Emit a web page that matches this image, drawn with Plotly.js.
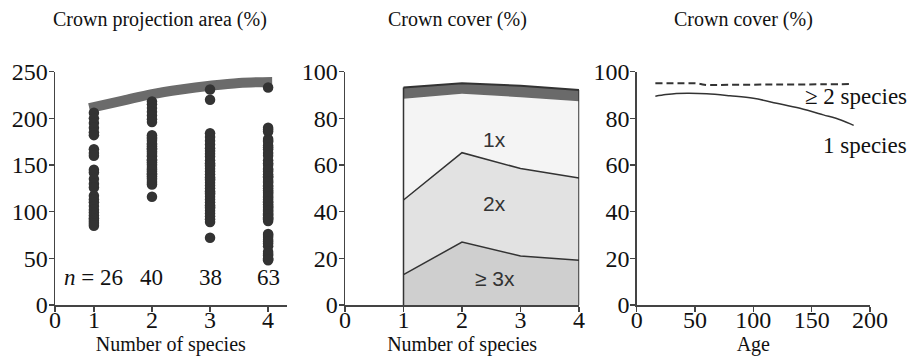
<!DOCTYPE html>
<html>
<head>
<meta charset="utf-8">
<script src="https://cdn.plot.ly/plotly-3.0.1.min.js"></script>
<style>html,body{margin:0;padding:0;background:#fff;}#chart{width:911px;height:362px;}</style>
</head>
<body>
<div id="chart"></div>
<script>
// ---------- Panel 1: crown projection area by number of species ----------
const speciesGroups = [1, 2, 3, 4];
const groupN = [26, 40, 38, 63];
const cpa1 = [206, 200, 195, 190, 185, 182, 167, 163, 160, 145, 142, 135, 130, 126, 117, 113, 110, 106, 102, 99, 96, 93, 91, 89, 87, 85];
const cpa2 = [218, 215, 211, 207, 203, 199, 196, 182, 179, 176, 173, 170, 167, 164, 162, 159, 156, 153, 151, 148, 146, 143, 141, 138, 136, 133, 131, 129, 172, 168, 160, 155, 150, 145, 140, 135, 178, 165, 180, 116];
const cpa3 = [231, 220, 184, 180, 176, 172, 168, 165, 162, 159, 155, 152, 149, 146, 143, 140, 137, 134, 131, 128, 125, 122, 119, 116, 113, 110, 107, 104, 101, 98, 95, 92, 89, 150, 135, 120, 105, 72];
const cpa4 = [233, 190, 186, 178, 175, 171, 167, 163, 155, 152, 146, 143, 140, 137, 134, 131, 128, 125, 123, 120, 118, 115, 113, 110, 108, 106, 104, 102, 100, 98, 96, 94, 92, 90, 76, 73, 70, 66, 63, 57, 53, 50, 48, 188, 176, 169, 150, 145, 138, 132, 127, 121, 116, 111, 105, 101, 97, 93, 75, 68, 55, 49, 160];
const bandX = [0.92, 1.5, 2, 2.5, 3, 3.5, 4.07];
const bandY = [211, 219, 226, 231, 235, 238, 239];
const p1TickVals = [0.33, 1, 2, 3, 4];
const p1TickText = ['0', '1', '2', '3', '4'];

// ---------- Panel 2: crown cover layers (cumulative tops) ----------
const coverCats = [1, 2, 3, 4];
const cover3x = [13, 27, 21, 19.2];
const cover2x = [45, 65.3, 58.5, 54.4];
const cover1x = [88.4, 90.6, 89.1, 87.3];
const coverTotal = [93.2, 95.1, 94.0, 92.2];
const layerLabels = ['1x', '2x', '\u2265 3x'];
const layerLabelY = [71, 43.6, 11.4];

// ---------- Panel 3: crown cover vs age ----------
const age1 = [16, 25, 34, 45, 60, 80, 100, 120, 140, 160, 175, 186];
const cover1sp = [89.5, 90.2, 90.7, 90.8, 90.6, 89.7, 88.6, 86.5, 84.3, 81.5, 79.3, 77.0];
const age2 = [16, 40, 52, 58, 80, 120, 160, 185];
const cover2sp = [95, 95, 95, 94.4, 94.4, 94.5, 94.6, 94.7];

const dark = '#333333';
const serif = 'Liberation Serif, Times New Roman, serif';
const sans = 'Liberation Sans, Arial, sans-serif';

const traces = [];
traces.push({x: bandX, y: bandY, xaxis: 'x', yaxis: 'y', mode: 'lines', type: 'scatter',
  line: {color: '#6b6b6b', width: 10, shape: 'spline'}, hoverinfo: 'skip', showlegend: false});
[cpa1, cpa2, cpa3, cpa4].forEach((vals, i) => {
  traces.push({x: vals.map(() => speciesGroups[i]), y: vals, xaxis: 'x', yaxis: 'y',
    mode: 'markers', type: 'scatter', marker: {color: dark, size: 10.5}, showlegend: false, cliponaxis: false});
});

traces.push({x: coverCats, y: cover3x, xaxis: 'x2', yaxis: 'y2', mode: 'lines', fill: 'tozeroy',
  fillcolor: '#cfcfcf', line: {color: dark, width: 1.5}, showlegend: false});
traces.push({x: coverCats, y: cover2x, xaxis: 'x2', yaxis: 'y2', mode: 'lines', fill: 'tonexty',
  fillcolor: '#e2e2e2', line: {color: dark, width: 1.5}, showlegend: false});
traces.push({x: coverCats, y: cover1x, xaxis: 'x2', yaxis: 'y2', mode: 'lines', fill: 'tonexty',
  fillcolor: '#f4f4f4', line: {color: '#f4f4f4', width: 0}, showlegend: false});
traces.push({x: coverCats, y: coverTotal, xaxis: 'x2', yaxis: 'y2', mode: 'lines', fill: 'tonexty',
  fillcolor: '#6a6a6a', line: {color: dark, width: 2}, showlegend: false});
const nC = coverCats.length;
traces.push({x: [coverCats[0], coverCats[0], null, coverCats[nC-1], coverCats[nC-1]],
  y: [0, coverTotal[0], null, 0, coverTotal[nC-1]], xaxis: 'x2', yaxis: 'y2', mode: 'lines',
  line: {color: dark, width: 1.5}, showlegend: false, cliponaxis: false});

traces.push({x: age2, y: cover2sp, xaxis: 'x3', yaxis: 'y3', mode: 'lines',
  line: {color: dark, width: 2, dash: '7px,4px', shape: 'spline'}, showlegend: false});
traces.push({x: age1, y: cover1sp, xaxis: 'x3', yaxis: 'y3', mode: 'lines',
  line: {color: dark, width: 1.5, shape: 'spline'}, showlegend: false});

const W = 911, H = 362;
const yDom = [(H - 305) / H, (H - 71.7) / H];
const tickFont = {family: serif, size: 24, color: '#111'};
const titleFont = {family: serif, size: 20, color: '#111'};
const labelFont = {family: serif, size: 23, color: '#111'};
function axBase(letter) {
  return {showgrid: false, zeroline: false, showline: true, linecolor: '#444', linewidth: 1.5,
    ticks: 'outside', ticklen: 5, tickwidth: 1.5, tickcolor: '#444', tickfont: tickFont, fixedrange: true,
    ticklabelstandoff: letter === 'x' ? -12 : -4};
}

const layout = {
  width: W, height: H, margin: {l: 0, r: 0, t: 0, b: 0}, paper_bgcolor: '#fff', plot_bgcolor: 'rgba(0,0,0,0)',
  showlegend: false,
  xaxis: Object.assign(axBase('x'), {domain: [55 / W, 286.7 / W], range: [0.33, 4.32], tickmode: 'array',
    tickvals: p1TickVals, ticktext: p1TickText, anchor: 'y',
    title: {text: 'Number of species', font: titleFont, standoff: 3}}),
  yaxis: Object.assign(axBase('y'), {domain: yDom, range: [0, 250], tickvals: [0, 50, 100, 150, 200, 250], anchor: 'x'}),
  xaxis2: Object.assign(axBase('x'), {domain: [345 / W, 579.3 / W], range: [0, 4.005], tickvals: [0, 1, 2, 3, 4], anchor: 'y2',
    title: {text: 'Number of species', font: titleFont, standoff: 3}}),
  yaxis2: Object.assign(axBase('y'), {domain: yDom, range: [0, 100], tickvals: [0, 20, 40, 60, 80, 100], anchor: 'x2'}),
  xaxis3: Object.assign(axBase('x'), {domain: [636.7 / W, 870 / W], range: [0, 200], tickvals: [0, 50, 100, 150, 200], anchor: 'y3',
    title: {text: 'Age', font: titleFont, standoff: 3}}),
  yaxis3: Object.assign(axBase('y'), {domain: yDom, range: [0, 100], tickvals: [0, 20, 40, 60, 80, 100], anchor: 'x3'}),
  annotations: []
};

[['Crown projection area (%)', 160], ['Crown cover (%)', 457], ['Crown cover (%)', 743]].forEach(([t, px]) => {
  layout.annotations.push({text: t, xref: 'paper', yref: 'paper', x: px / W, y: (H - 20) / H,
    xanchor: 'center', yanchor: 'middle', showarrow: false, font: titleFont});
});
groupN.forEach((n, i) => {
  layout.annotations.push({text: (i === 0 ? '<i>n</i> = ' : '') + n, xref: 'x', yref: 'y', x: speciesGroups[i], y: 29,
    xanchor: 'center', yanchor: 'middle', showarrow: false, font: labelFont});
});
layerLabels.forEach((t, i) => {
  layout.annotations.push({text: t, xref: 'x2', yref: 'y2', x: 2.56, y: layerLabelY[i],
    xanchor: 'center', yanchor: 'middle', showarrow: false, font: {family: sans, size: 21, color: dark}});
});
layout.annotations.push({text: '\u2265 2 species', xref: 'paper', yref: 'y3', x: 909 / W, y: 89.5,
  xanchor: 'right', yanchor: 'middle', showarrow: false, font: labelFont});
layout.annotations.push({text: '1 species', xref: 'paper', yref: 'y3', x: 909 / W, y: 68.5,
  xanchor: 'right', yanchor: 'middle', showarrow: false, font: labelFont});

Plotly.newPlot('chart', traces, layout, {staticPlot: true, displayModeBar: false});
</script>
</body>
</html>
